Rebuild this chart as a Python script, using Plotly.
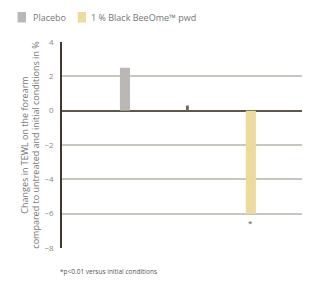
import plotly.graph_objects as go

# Data
placebo_label = "Placebo"
active_label = "1 % Black BeeOme™ pwd"
positions = [1, 2, 3]
placebo_value = [2.5]
middle_value = [0.3]
active_value = [-6.0]
y_ticks = [4, 2, 0, -2, -4, -6, -8]
y_title = "Changes in TEWL on the forearm<br>compared to untreated and initial conditions in %"
footnote = "*p<0.01 versus initial conditions"

FONT = "Open Sans, sans-serif"
TXT = "#767676"
C_PLACEBO = "#bbb7b4"
C_ACTIVE = "#eddb9d"

fig = go.Figure()
fig.add_trace(go.Bar(x=[positions[0]], y=placebo_value, name=placebo_label,
                     marker=dict(color=C_PLACEBO, line=dict(width=0)), width=0.16))
fig.add_trace(go.Bar(x=[positions[1]], y=middle_value, showlegend=False,
                     marker=dict(color="#6f6b62", line=dict(width=0)), width=0.03))
fig.add_trace(go.Bar(x=[positions[2]], y=active_value, name=active_label,
                     marker=dict(color=C_ACTIVE, line=dict(width=0)), width=0.16))

# asterisk under active bar
fig.add_annotation(x=positions[2], y=active_value[0], text="*", showarrow=False,
                   yshift=-9, font=dict(size=8, color="#555", family=FONT))
# footnote
fig.add_annotation(xref="paper", yref="paper", x=-0.016, y=-0.1165, xanchor="left",
                   yanchor="middle", text=footnote, showarrow=False,
                   font=dict(size=6.5, color="#555", family=FONT))

# legend (drawn manually to match the compact layout)
legend_items = [(placebo_label, C_PLACEBO, -0.1794, -0.1452, -0.1262),
                (active_label, C_ACTIVE, 0.0633, 0.0968, 0.1089)]
for label, col, sx0, sx1, tx in legend_items:
    fig.add_shape(type="rect", xref="paper", yref="paper", x0=sx0, x1=sx1,
                  y0=1.0947, y1=1.1456, fillcolor=col, line=dict(width=0))
    fig.add_annotation(xref="paper", yref="paper", x=tx, y=1.119, xanchor="left",
                       yanchor="middle", text=label, showarrow=False,
                       font=dict(size=9, color=TXT, family=FONT))

fig.update_layout(
    width=302, height=274,
    margin=dict(l=54, r=0, t=34, b=34, autoexpand=False),
    paper_bgcolor="white", plot_bgcolor="white",
    barmode="overlay", showlegend=False,
    font=dict(family=FONT, color=TXT, size=8),
    xaxis=dict(range=[0, 3.94], showticklabels=False, showgrid=False,
               zeroline=False, showline=False, ticks=""),
    yaxis=dict(range=[-8, 4], tickvals=y_ticks, showgrid=True,
               gridcolor="#c8c6be", gridwidth=1.5,
               zeroline=True, zerolinecolor="#5e5848", zerolinewidth=1.5,
               showline=True, linecolor="#3f3a2a", linewidth=1.5,
               ticks="", ticklabelstandoff=5,
               tickfont=dict(size=8, color="#8a8a8a", family=FONT),
               title=dict(text=y_title, standoff=3,
                          font=dict(size=9, color=TXT, family=FONT))),
)

fig.write_html("out.html")
